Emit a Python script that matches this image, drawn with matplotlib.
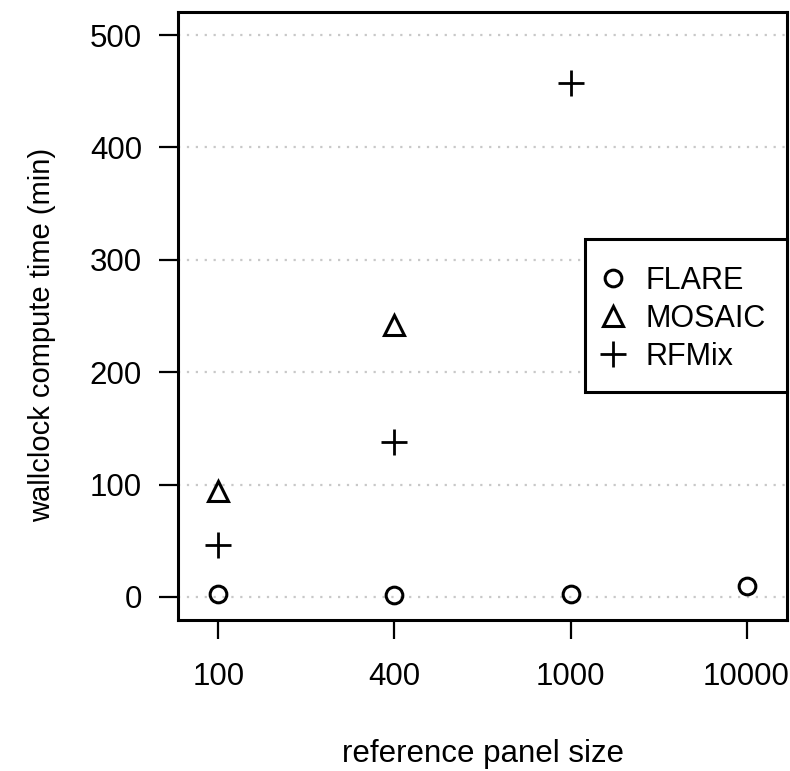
import matplotlib
matplotlib.use("Agg")
import matplotlib.pyplot as plt
from matplotlib.patches import Rectangle

plt.rcParams['font.family'] = ['Liberation Sans', 'DejaVu Sans']

panel_sizes = ["100", "400", "1000", "10000"]
flare = [3, 2, 3, 10]
mosaic = [94.5, 242]
rfmix = [46, 137.5, 457]

fig = plt.figure(figsize=(7.9, 7.71), dpi=100)
W, H = 790, 771
l, r, t, b = 178, 787, 12, 620
ax = fig.add_axes([l / W, 1 - b / H, (r - l) / W, (b - t) / H])

def ax_x(px):
    return (px - l) / (r - l)

def ax_y(py):
    return (b - py) / (b - t)

xpos = list(range(1, len(panel_sizes) + 1))
ax.plot(xpos, flare, linestyle='none', marker='o', markersize=12, markerfacecolor='none',
        markeredgecolor='black', markeredgewidth=2.2, label='FLARE', clip_on=False)
ax.plot(xpos[:len(mosaic)], mosaic, linestyle='none', marker='^', markersize=14, markerfacecolor='none',
        markeredgecolor='black', markeredgewidth=2.2, label='MOSAIC', clip_on=False)
ax.plot(xpos[:len(rfmix)], rfmix, linestyle='none', marker='+', markersize=19,
        markeredgecolor='black', markeredgewidth=2.0, label='RFMix', clip_on=False)

yticks = [0, 100, 200, 300, 400, 500]
for y in yticks:
    ax.axhline(y, color='#c8c8c8', linestyle=(0, (1, 3)), linewidth=1.6, zorder=0)

ax.set_xlim(0.77, 4.23)
ax.set_ylim(-20.5, 520.5)
ax.set_xticks(xpos)
ax.set_xticklabels(panel_sizes)
ax.set_yticks(yticks)
ax.tick_params(axis='both', direction='out', length=14, width=1.6, labelsize=22.5, pad=12)
ax.tick_params(axis='x', pad=16)
for s in ax.spines.values():
    s.set_linewidth(2.2)

ax.set_xlabel('reference panel size', fontsize=22.5)
ax.xaxis.set_label_coords(ax_x(483), ax_y(739))
ax.set_ylabel('wallclock compute time (min)', fontsize=21)
ax.yaxis.set_label_coords(ax_x(56), ax_y(335))

# legend frame
ax.add_patch(Rectangle((ax_x(585), ax_y(392)), ax_x(787) - ax_x(585), ax_y(239) - ax_y(392),
                       transform=ax.transAxes, facecolor='white', edgecolor='black',
                       linewidth=2.2, clip_on=False, zorder=4))
leg = ax.legend(loc='upper left', bbox_to_anchor=(ax_x(598), ax_y(266)), fontsize=22,
                frameon=False, borderpad=0.0, labelspacing=0.26, handlelength=1.0,
                handletextpad=0.55, borderaxespad=0.0)
leg.set_zorder(5)

fig.savefig('out.png', dpi=100)
